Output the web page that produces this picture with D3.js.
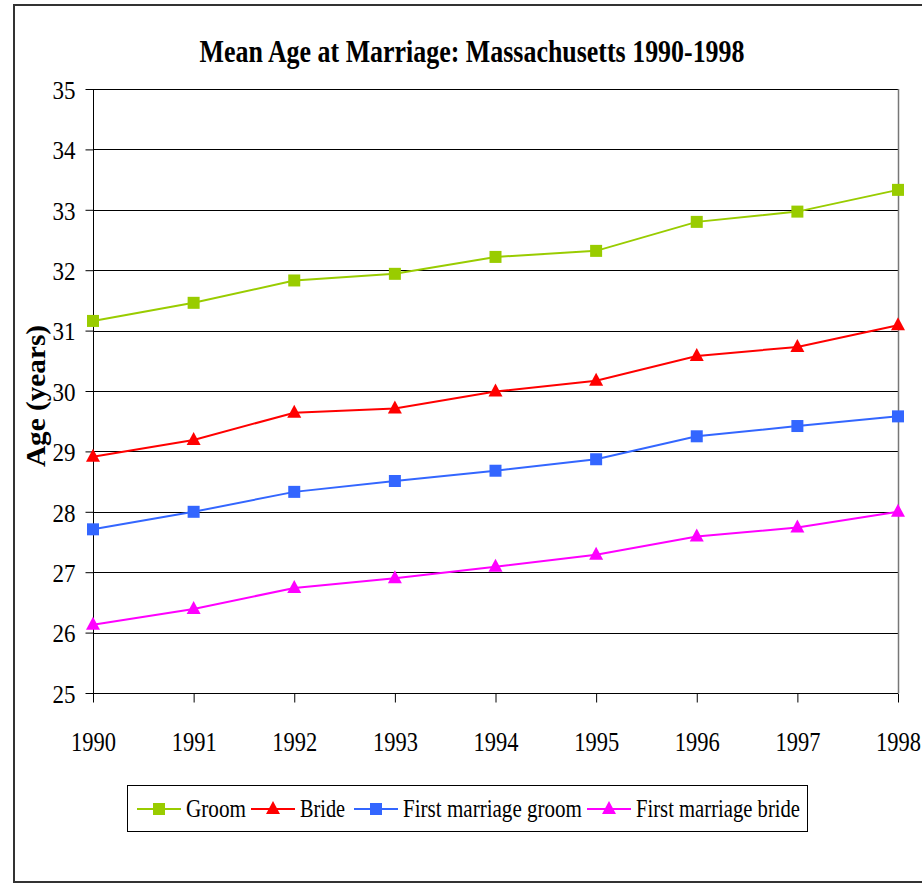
<!DOCTYPE html>
<html><head><meta charset="utf-8">
<script src="https://cdn.jsdelivr.net/npm/d3@7"></script>
<style>body{margin:0;background:#fff}svg{display:block}
svg text{font-family:"Liberation Serif","Times New Roman",Times,serif;}
</style>
</head><body>
<svg id="c" width="922" height="885"></svg>
<script>
const years = [1990,1991,1992,1993,1994,1995,1996,1997,1998];
const groom = [31.16,31.46,31.83,31.94,32.22,32.32,32.80,32.97,33.33];
const bride = [28.91,29.19,29.64,29.71,29.99,30.17,30.58,30.73,31.09];
const firstGroom = [27.71,28.00,28.33,28.51,28.68,28.87,29.25,29.42,29.58];
const firstBride = [26.13,26.39,26.74,26.90,27.09,27.29,27.59,27.74,28.00];
const yTicks = [25,26,27,28,29,30,31,32,33,34,35];
const seriesNames = ["Groom","Bride","First marriage groom","First marriage bride"];
const seriesColors = ["#99cc00","#ff0000","#3366ff","#ff00ff"];
const seriesShapes = ["square","triangle","square","triangle"];
const seriesValues = [groom,bride,firstGroom,firstBride];

const svg = d3.select("#c");
const font = '"Liberation Serif","Times New Roman",Times,serif';
const L=93,R=898,T=89,B=693;
const x = d3.scalePoint().domain(years).range([L,R]);
const y = d3.scaleLinear().domain([25,35]).range([B,T]);

// outer border
svg.append("rect").attr("x",14).attr("y",5).attr("width",922).attr("height",877)
  .attr("fill","none").attr("stroke","#333").attr("stroke-width",2);

// title
svg.append("text").attr("x",472).attr("y",62).attr("text-anchor","middle")
  .style("font-family",font).attr("font-weight","bold").attr("font-size",31)
  .attr("textLength",545).attr("lengthAdjust","spacingAndGlyphs")
  .text("Mean Age at Marriage: Massachusetts 1990-1998");

// gridlines
svg.append("g").selectAll("line").data(yTicks).join("line")
  .attr("x1",L).attr("x2",R).attr("y1",d=>Math.round(y(d))+0.5).attr("y2",d=>Math.round(y(d))+0.5)
  .attr("stroke","#000").attr("stroke-width",1);
// right border
svg.append("line").attr("x1",R+0.5).attr("x2",R+0.5).attr("y1",T).attr("y2",B).attr("stroke","#777").attr("stroke-width",1.5);

// y axis
const ya = svg.append("g").attr("transform",`translate(${L+0.5},0)`)
  .call(d3.axisLeft(y).tickValues(yTicks).tickSize(8).tickPadding(10).tickFormat(d3.format("d")));
ya.attr("font-family",null);
ya.select(".domain").attr("stroke","#000").attr("d",`M0,${T}V${B}`);
ya.selectAll("line").attr("stroke","#000");
ya.selectAll("text").style("font-family",font).attr("font-size",26).attr("fill","#000")
  .attr("textLength",23).attr("lengthAdjust","spacingAndGlyphs").attr("dy","0.36em");

// x axis
const xa = svg.append("g").attr("transform",`translate(0,${B+0.5})`)
  .call(d3.axisBottom(x).tickSize(9).tickPadding(20).tickFormat(d3.format("d")));
xa.attr("font-family",null);
xa.select(".domain").remove();
xa.selectAll("line").attr("stroke","#000");
xa.selectAll("text").style("font-family",font).attr("font-size",27).attr("fill","#000")
  .attr("textLength",45).attr("lengthAdjust","spacingAndGlyphs").attr("dy",null).attr("y",null)
  .attr("transform",null).attr("y",57);

// y label
svg.append("text").attr("transform","translate(45,396) rotate(-90)").attr("text-anchor","middle")
  .style("font-family",font).attr("font-weight","bold").attr("font-size",27)
  .attr("textLength",142).attr("lengthAdjust","spacingAndGlyphs")
  .text("Age (years)");

// series
const line = d3.line().x((d,i)=>x(years[i])).y(d=>y(d));
function marker(g, shape, color, cx, cy){
  if(shape==="square"){
    g.append("rect").attr("x",cx-6).attr("y",cy-6).attr("width",12).attr("height",12).attr("fill",color);
  } else {
    g.append("path").attr("d",`M${cx},${cy-8}L${cx+7},${cy+5}L${cx-7},${cy+5}Z`).attr("fill",color);
  }
}
seriesValues.forEach((vals,si)=>{
  const g = svg.append("g");
  g.append("path").attr("d",line(vals)).attr("fill","none").attr("stroke",seriesColors[si]).attr("stroke-width",2);
  vals.forEach((v,i)=>marker(g,seriesShapes[si],seriesColors[si],x(years[i]),y(v)));
});

// legend
svg.append("rect").attr("x",127.5).attr("y",785.5).attr("width",680).attr("height",46)
  .attr("fill","#fff").attr("stroke","#000").attr("stroke-width",1);
const legX = [137,251,354,587];
const legTextW = [60,45,179,164];
seriesNames.forEach((n,i)=>{
  const g = svg.append("g");
  const lx = legX[i];
  g.append("line").attr("x1",lx).attr("x2",lx+44).attr("y1",809).attr("y2",809).attr("stroke",seriesColors[i]).attr("stroke-width",2);
  marker(g,seriesShapes[i],seriesColors[i],lx+22,809);
  g.append("text").attr("x",lx+49).attr("y",817).style("font-family",font).attr("font-size",25)
    .attr("textLength",legTextW[i]).attr("lengthAdjust","spacingAndGlyphs").text(n);
});
</script>
</body></html>
